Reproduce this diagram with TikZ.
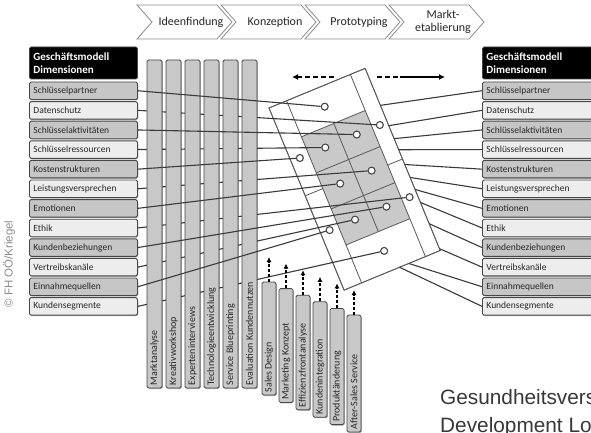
\documentclass[tikz,border=0pt]{standalone}
\usepackage{fontspec}
\setmainfont{Carlito}
\newfontfamily\helv{Liberation Sans}
\usetikzlibrary{arrows.meta,shadows,calc}

\definecolor{rowdark}{HTML}{C6C6C6}
\definecolor{rowlight}{HTML}{EDEDED}
\definecolor{barfill}{HTML}{C8C8C8}
\definecolor{rimgray}{HTML}{474747}
\definecolor{wirecol}{HTML}{3A3A3A}
\definecolor{cellgray}{HTML}{C9C9C9}
\definecolor{platline}{HTML}{5A5A5A}
\definecolor{chevline}{HTML}{8C8C8C}

\pgfdeclarelayer{base}
\pgfdeclarelayer{behind}
\pgfdeclarelayer{bars}
\pgfdeclarelayer{front}
\pgfsetlayers{base,behind,bars,front,main}

\tikzset{
  softshadow/.style={drop shadow={shadow xshift=0.8pt,shadow yshift=-1pt,opacity=0.3,fill=black}},
  dimrow/.style={draw=rimgray, line width=0.9pt, rounded corners=1.5pt, minimum height=17.5pt,
    inner sep=0pt, anchor=west, align=left, font=\fontsize{9.5}{10}\selectfont, text=black!85, softshadow},
  dimhead/.style={fill=black, draw=rimgray, line width=0.9pt, rounded corners=1.5pt, minimum height=32pt,
    inner sep=0pt, anchor=west, align=left, font=\bfseries\fontsize{11}{13.5}\selectfont, text=white},
  methodbar/.style={draw=rimgray, fill=barfill, line width=0.8pt, rounded corners=1.5pt,
    minimum width=15pt, inner sep=0pt, softshadow},
  barlabel/.style={rotate=90, anchor=west, inner sep=0pt, font=\fontsize{10}{10}\selectfont, text=black!85},
  wire/.style={draw=wirecol, line width=1.1pt},
  hub/.style={circle, draw=rimgray, fill=white, line width=1.1pt, minimum size=7pt, inner sep=0pt},
  upflow/.style={draw=black, line width=1.3pt, dash pattern=on 3pt off 2pt, -{Latex[length=5pt,width=5pt]}},
  phase/.style={draw=chevline, fill=white, line width=0.8pt},
  phasetext/.style={font=\fontsize{12}{13.5}\selectfont, align=center, text=black!85},
  flowline/.style={draw=black, line width=1.8pt},
  caption/.style={anchor=base west, inner sep=0pt, font=\helv\fontsize{20.8}{20.8}\selectfont, text=black!78},
}

\begin{document}
\begin{tikzpicture}[x=1pt,y=-1pt]
\useasboundingbox (0,0) rectangle (591,433);

\begin{pgfonlayer}{base}
  \fill[white] (0,0) rectangle (591,433);
  % process chevrons
  \foreach \x/\t [count=\i] in {137/Ideenfindung,221/Konzeption,305/Prototyping,389/{Markt-\\etablierung}} {
    \draw[phase] (\x,5) -- ++(80,0) -- ++(15,17) -- ++(-15,17) -- ++(-80,0) -- ++(15,-17) -- cycle;
    \node[phasetext] (phase\i) at (\x+54,22) {\t};
  }
  % tilted platform with its grid
  \begin{scope}[shift={(269pt,-108pt)}, rotate=22.4]
    \filldraw[draw=platline, fill=white, line width=0.8pt] (0,0) rectangle (104,197);
    \fill[cellgray] (19,39) rectangle (88,156);
    \draw[draw=platline, line width=0.8pt]
      (19,0) -- (19,197) (88,0) -- (88,197) (54,39) -- (54,156)
      (19,39) -- (88,39) (19,78) -- (88,78) (19,117) -- (88,117) (19,156) -- (88,156)
      (0,95) -- (19,95) (88,98) -- (104,98);
    \draw[draw=platline, line width=0.8pt] (104,0) rectangle (0,197);
  \end{scope}
\end{pgfonlayer}

% hubs on the platform and the points where the right-hand wires meet it
\begin{scope}[shift={(269pt,-108pt)}, rotate=22.4]
  \foreach \s/\t [count=\i] in {52/20, 96/58, 71/58, 37/58, 9.5/58, 71/97, 37/97, 96/136, 71/136, 37/136, 9.5/136, 52/176}
    \node[hub] (c\i) at (\s,\t) {};
  \foreach \s/\t [count=\i] in {104/40, 104/62, 104/76, 104/88, 104/104, 104/118, 104/131, 104/145, 104/168, 104/195, 70/197, 60/197}
    \coordinate (e\i) at (\s,\t);
\end{scope}

% dimension tables
\node[dimhead, minimum width=108pt, text width=100pt] (lhead) at (29,63) {Geschäftsmodell\\Dimensionen};
\node[dimhead, minimum width=118pt, text width=110pt] (rhead) at (482,63) {Geschäftsmodell\\Dimensionen};
\foreach \t [count=\i] in {Schlüsselpartner, Datenschutz, Schlüsselaktivitäten, Schlüsselressourcen,
    Kostenstrukturen, Leistungsversprechen, Emotionen, Ethik, Kundenbeziehungen, Vertreibskanäle,
    Einnahmequellen, Kundensegmente} {
  \pgfmathsetmacro\ry{90.75+19.6*(\i-1)}
  \pgfmathtruncatemacro\odd{mod(\i,2)}
  \ifnum\odd=1 \def\rf{rowdark}\else \def\rf{rowlight}\fi
  \node[dimrow, fill=\rf, minimum width=108pt, text width=100pt] (l\i) at (29,\ry) {\t};
  \node[dimrow, fill=\rf, minimum width=118pt, text width=110pt] (r\i) at (482,\ry) {\t};
}

% first group of method bars
\begin{pgfonlayer}{bars}
  \foreach \x/\t [count=\i] in {154.5/Marktanalyse, 173.5/Kreativworkshop, 192.5/Experteninterviews,
      211.5/Technologieentwicklung, 230.5/Service Blueprinting, 249.5/Evaluation Kundennutzen} {
    \node[methodbar, minimum height=328pt] (m\i) at (\x,224) {};
    \node[barlabel] (mt\i) at ([yshift=3pt]m\i.south) {\t};
  }
\end{pgfonlayer}

% wires from the left table to the hubs
\begin{pgfonlayer}{behind}
  \foreach \i in {2,4,...,12} \draw[wire] (l\i.east) -- (c\i);
\end{pgfonlayer}
\begin{pgfonlayer}{front}
  \foreach \i in {1,3,...,11} \draw[wire] (l\i.east) -- (c\i);
  \foreach \i in {1,...,12} \draw[wire] (r\i.west) -- (e\i);
\end{pgfonlayer}

% second group of method bars, stepped, each with an upward arrow
\foreach \t [count=\i] in {Sales Design, Marketing Konzept, Effizienzfrontanalyse, Kundenintegration,
    Produktänderung, After-Sales Service} {
  \pgfmathsetmacro\bx{269+17*(\i-1)}
  \pgfmathsetmacro\btop{282+6.6*(\i-1)}
  \pgfmathsetmacro\bh{113+0.8*(\i-1)}
  \pgfmathsetmacro\bmid{\btop+\bh/2}
  \pgfmathsetmacro\tip{\btop-25}
  \node[methodbar, minimum width=14pt, minimum height=\bh pt] (s\i) at (\bx,\bmid) {};
  \node[barlabel] (st\i) at ([yshift=3pt]s\i.south) {\t};
  \coordinate (sa\i) at (\bx,\tip);
  \draw[upflow] (s\i.north) -- (sa\i);
}

% direction arrows above the platform
\coordinate (pl1) at (334,77);
\coordinate (pl2) at (292,77);
\draw[flowline, dash pattern=on 5pt off 3pt, -{Latex[length=6pt,width=6pt]}] (pl1) -- (pl2);
\coordinate (pr1) at (377,77);
\coordinate (pr2) at (400,77);
\coordinate (pr3) at (445,77);
\draw[flowline, dash pattern=on 5pt off 3pt] (pr1) -- (pr2);
\draw[flowline, -{Latex[length=6pt,width=6pt]}] (pr2) -- (pr3);

% credit and caption
\node[rotate=90, inner sep=0pt, font=\helv\fontsize{11.5}{11.5}\selectfont, text=black!45] (credit) at (9,264) {© FH OÖ/Kriegel};
\node[caption] (cap1) at (440,404.5) {Gesundheitsvers};
\node[caption] (cap2) at (440,432) {Development Lo};
\end{tikzpicture}
\end{document}
